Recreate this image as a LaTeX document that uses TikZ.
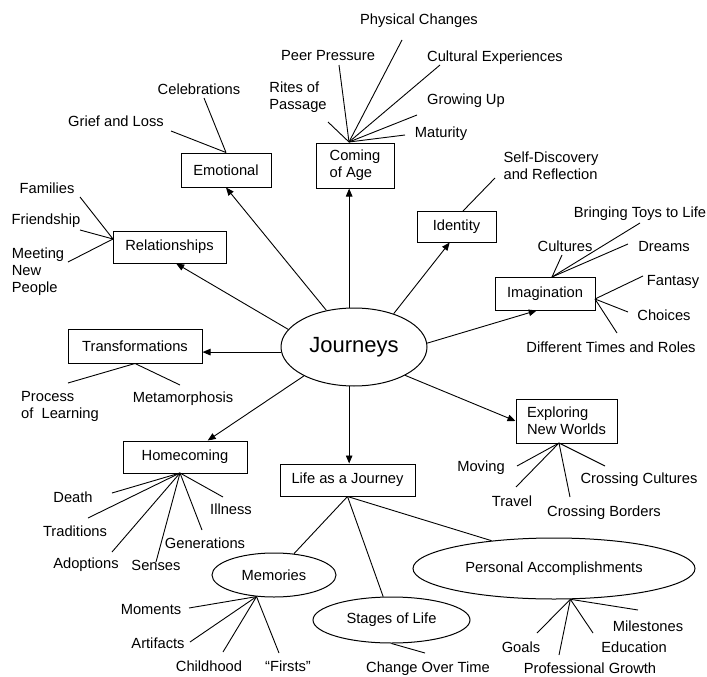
\documentclass[tikz,border=0pt]{standalone}
\usepackage{fontspec}
\setmainfont{Liberation Sans}
\usetikzlibrary{arrows.meta,shapes.geometric,calc}
\begin{document}
\begin{tikzpicture}[x=1pt,y=-1pt,
  lbl/.style={font=\fontsize{14.7}{17}\selectfont, inner sep=0pt, align=left},
  box/.style={draw, line width=1pt, font=\fontsize{14.7}{17}\selectfont, inner sep=0pt, align=left},
  oval/.style={draw, ellipse, line width=1pt, inner sep=0pt, font=\fontsize{14.7}{17}\selectfont},
  conn/.style={line width=0.9pt},
  arr/.style={line width=0.9pt, -{Triangle[length=8pt,width=6.5pt]}}
]
\useasboundingbox[fill=white] (0,0) rectangle (707,677);

% central node
\node[oval, minimum width=146pt, minimum height=78pt, font=\fontsize{22}{26}\selectfont] (J) at (354,347) {Journeys};

% boxes
\node[box, minimum width=90pt, minimum height=34pt] (emo) at (226,170) {Emotional};
\node[box, minimum width=78pt, minimum height=45pt] (coa) at (355,165.5) {Coming\\of Age};
\node[box, minimum width=113pt, minimum height=32pt] (rel) at (169.5,247) {Relationships};
\node[box, minimum width=79pt, minimum height=31pt] (id) at (456.5,226.5) {Identity};
\node[box, minimum width=100pt, minimum height=33pt] (imag) at (545,293.5) {Imagination};
\node[box, minimum width=134pt, minimum height=34pt] (tr) at (135,346) {Transformations};
\node[box, minimum width=124pt, minimum height=32pt] (home) at (185,457) {Homecoming};
\node[box, minimum width=135pt, minimum height=32pt] (life) at (347.5,480) {Life as a Journey};
\node[box, minimum width=101pt, minimum height=44pt] (ex) at (566.5,421) {Exploring\\New Worlds};

% ellipses
\node[oval, minimum width=124pt, minimum height=44pt] (mem) at (274,575) {Memories};
\node[oval, minimum width=157pt, minimum height=46pt] (stages) at (391.5,620) {Stages of Life};
\node[oval, minimum width=282pt, minimum height=61pt] (pa) at (554,568.5) {Personal Accomplishments};

% arrows from Journeys
\draw[arr] (J.127) -- (emo.south);
\draw[arr] (J.97) -- (J.97 |- coa.south);
\draw[arr] (J.165) -- (rel.-68);
\draw[arr] (J.40) -- (id.-113);
\draw[arr] (J.3) -- (imag.-116);
\draw[arr] (J.184) -- (J.184 -| tr.east);
\draw[arr] (J.210) -- (home.36);
\draw[arr] (J.-97) -- (J.-97 |- life.north);
\draw[arr] (J.-29) -- (ex.west);

% labels
\node[lbl] (celeb) at (199,89) {Celebrations};
\node[lbl] (grief) at (116,121) {Grief and Loss};
\node[lbl] (rites) at (298,97) {Rites of\\Passage};
\node[lbl] (peer) at (328,56) {Peer Pressure};
\node[lbl] (phys) at (419,21) {Physical Changes};
\node[lbl] (cult) at (495,58) {Cultural Experiences};
\node[lbl] (grow) at (466,101) {Growing Up};
\node[lbl] (mat) at (441,134) {Maturity};
\node[lbl] (self) at (551,166) {Self-Discovery\\and Reflection};
\node[lbl] (toys) at (640,214) {Bringing Toys to Life};
\node[lbl] (cultures) at (565,246) {Cultures};
\node[lbl] (dreams) at (664,247) {Dreams};
\node[lbl] (fant) at (673,282) {Fantasy};
\node[lbl] (choi) at (664,315) {Choices};
\node[lbl] (diff) at (611,347) {Different Times and Roles};
\node[lbl] (fam) at (47,188) {Families};
\node[lbl] (friend) at (46,221) {Friendship};
\node[lbl] (meet) at (38,272) {Meeting\\New\\People};
\node[lbl] (proc) at (60,406) {Process\\of\ \ Learning};
\node[lbl] (meta) at (183,399) {Metamorphosis};
\node[lbl] (death) at (73,497) {Death};
\node[lbl] (trad) at (75,531) {Traditions};
\node[lbl] (adop) at (86,565) {Adoptions};
\node[lbl] (sens) at (156,565) {Senses};
\node[lbl] (gen) at (205,543) {Generations};
\node[lbl] (ill) at (231,509) {Illness};
\node[lbl] (mov) at (481,468) {Moving};
\node[lbl] (trav) at (512,501) {Travel};
\node[lbl] (ccult) at (639,480) {Crossing Cultures};
\node[lbl] (cbord) at (604,513) {Crossing Borders};
\node[lbl] (mom) at (151,610) {Moments};
\node[lbl] (art) at (158,643) {Artifacts};
\node[lbl] (child) at (209,666) {Childhood};
\node[lbl] (firsts) at (288,666) {``Firsts''};
\node[lbl] (change) at (428,669) {Change Over Time};
\node[lbl] (mile) at (648,626) {Milestones};
\node[lbl] (edu) at (634,647) {Education};
\node[lbl] (prof) at (590,668) {Professional Growth};
\node[lbl] (goals) at (521,647) {Goals};

% hubs
\coordinate (coah) at (349,142);
\coordinate (idh) at (463,211);
\coordinate (imht) at (552,277);
\coordinate (imhr) at (595,299);
\coordinate (relh) at (113,239);
\coordinate (homh) at (180,473);
\coordinate (exh) at (559,443);

% free ends
\coordinate (e-celeb) at (204,98);
\coordinate (e-grief) at (171,131);
\coordinate (e-rites) at (328,122);
\coordinate (e-peer) at (339,65);
\coordinate (e-phys) at (402,40);
\coordinate (e-cult) at (440,65);
\coordinate (e-grow) at (417,115);
\coordinate (e-mat) at (405,135);
\coordinate (e-self) at (495,178);
\coordinate (e-cultures) at (562,255);
\coordinate (e-toys) at (640,223);
\coordinate (e-dreams) at (628,244);
\coordinate (e-fant) at (643,276);
\coordinate (e-choi) at (628,312);
\coordinate (e-diff) at (617,333);
\coordinate (e-fam) at (80,197);
\coordinate (e-friend) at (80,230);
\coordinate (e-meet) at (68,262);
\coordinate (e-proc) at (68,383);
\coordinate (e-meta) at (180,385);
\coordinate (e-death) at (112,493);
\coordinate (e-trad) at (88,518);
\coordinate (e-adop) at (112,552);
\coordinate (e-sens) at (156,562);
\coordinate (e-gen) at (202,530);
\coordinate (e-ill) at (223,497);
\coordinate (e-mov) at (517,466);
\coordinate (e-trav) at (516,487);
\coordinate (e-cbord) at (570,497);
\coordinate (e-ccult) at (605,466);
\coordinate (e-mom) at (189,608);
\coordinate (e-art) at (190,642);
\coordinate (e-child) at (223,652);
\coordinate (e-firsts) at (279,653);
\coordinate (e-change) at (425,653);
\coordinate (e-mile) at (638,610);
\coordinate (e-edu) at (593,633);
\coordinate (e-prof) at (559,655);
\coordinate (e-goals) at (537,633);

% connectors
\draw[conn] (emo.north) -- (e-celeb);
\draw[conn] (emo.north) -- (e-grief);
\foreach \e in {rites,peer,phys,cult,grow,mat} \draw[conn] (coah) -- (e-\e);
\draw[conn] (idh) -- (e-self);
\foreach \e in {cultures,toys,dreams} \draw[conn] (imht) -- (e-\e);
\foreach \e in {fant,choi,diff} \draw[conn] (imhr) -- (e-\e);
\foreach \e in {fam,friend,meet} \draw[conn] (relh) -- (e-\e);
\foreach \e in {proc,meta} \draw[conn] (tr.south) -- (e-\e);
\foreach \e in {death,trad,adop,sens,gen,ill} \draw[conn] (homh) -- (e-\e);
\foreach \e in {mov,trav,cbord,ccult} \draw[conn] (exh) -- (e-\e);
\draw[conn] (life.south) -- (mem);
\draw[conn] (life.south) -- (stages);
\draw[conn] (life.south) -- (pa.156);
\foreach \e in {mom,art,child,firsts} \draw[conn] (mem.-129) -- (e-\e);
\draw[conn] (stages.south) -- (e-change);
\foreach \e in {mile,edu,prof,goals} \draw[conn] (pa.-62) -- (e-\e);
\end{tikzpicture}
\end{document}
